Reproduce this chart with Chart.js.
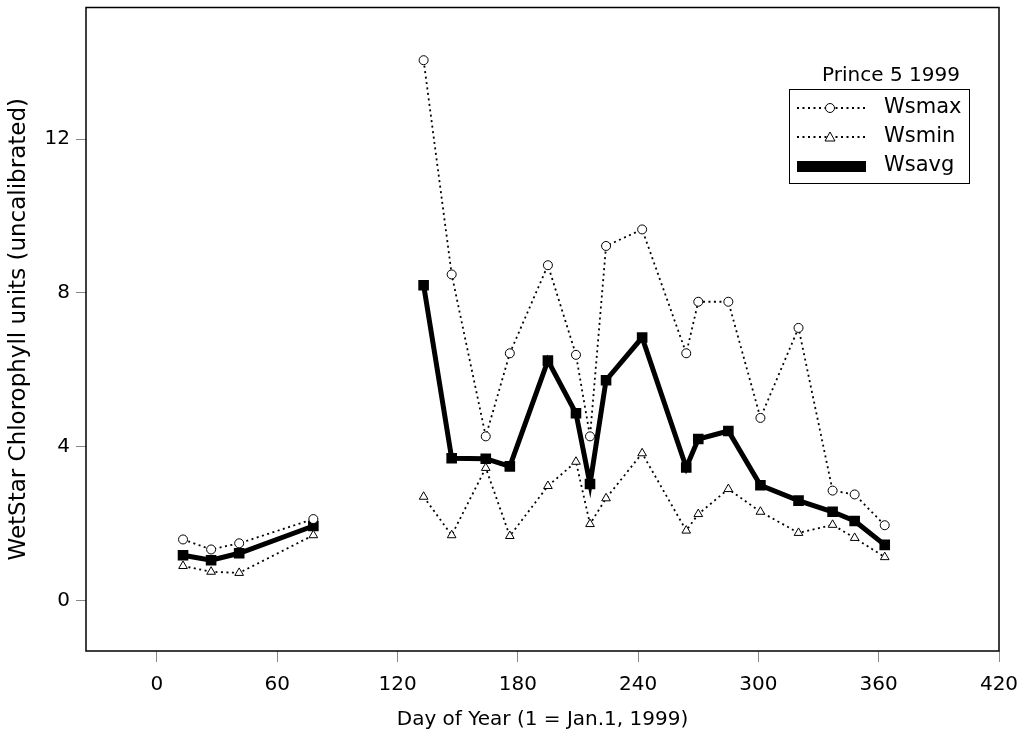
<!DOCTYPE html>
<html>
<head>
<meta charset="utf-8">
<script src="https://cdn.jsdelivr.net/npm/chart.js@4"></script>
<style>
  html, body { margin: 0; padding: 0; background: #fff; }
  #wrap { width: 1026px; height: 738px; }
</style>
</head>
<body>
<div id="wrap"><canvas id="chart" width="1026" height="738"></canvas></div>
<script>
// =====================
// Data
// =====================
const days  = [13, 27, 41, 78, 133, 147, 164, 176, 195, 209, 216, 224, 242, 264, 270, 285, 301, 320, 337, 348, 363];
const wsmax = [1.59, 1.33, 1.49, 2.12, 14.05, 8.48, 4.27, 6.43, 8.72, 6.39, 4.27, 9.22, 9.65, 6.43, 7.77, 7.77, 4.75, 7.09, 2.86, 2.76, 1.96];
const wsmin = [0.90, 0.75, 0.72, 1.70, 2.70, 1.70, 3.45, 1.68, 2.98, 3.61, 1.99, 2.66, 3.83, 1.82, 2.25, 2.90, 2.31, 1.76, 1.97, 1.63, 1.13];
const wsavg = [1.18, 1.05, 1.23, 1.94, 8.20, 3.70, 3.69, 3.49, 6.24, 4.87, 3.03, 5.73, 6.84, 3.46, 4.20, 4.41, 3.00, 2.60, 2.31, 2.07, 1.45];

const xTicks = [0, 60, 120, 180, 240, 300, 360, 420];
const yTicks = [0, 4, 8, 12];

const FONT = '"DejaVu Sans", "Liberation Sans", Arial, sans-serif';

function pts(vals) {
  return days.map((d, i) => ({x: d, y: vals[i]}));
}

// box round the plot + legend inside
const framePlugin = {
  id: 'frame',
  afterDatasetsDraw(chart) {
    const {ctx, chartArea: a} = chart;
    ctx.save();
    ctx.strokeStyle = '#000';
    ctx.lineWidth = 1.5;
    ctx.setLineDash([]);
    ctx.strokeRect(a.left, a.top, a.right - a.left, a.bottom - a.top);

    // title text
    ctx.fillStyle = '#000';
    ctx.font = '20px ' + FONT;
    ctx.textAlign = 'center';
    ctx.textBaseline = 'middle';
    ctx.fillText('Prince 5 1999', 891, 76);

    // legend box
    ctx.lineWidth = 1;
    ctx.strokeRect(789.5, 89.5, 180, 94);

    const rows = [
      {label: 'Wsmax', y: 108, kind: 'circle'},
      {label: 'Wsmin', y: 137, kind: 'triangle'},
      {label: 'Wsavg', y: 166, kind: 'rect'}
    ];
    ctx.font = '21px ' + FONT;
    rows.forEach(r => {
      ctx.strokeStyle = '#000';
      if (r.kind === 'rect') {
        ctx.fillRect(797, r.y - 5, 69, 11);
      } else {
        ctx.lineWidth = 1.8;
        ctx.setLineDash([2, 3.5]);
        ctx.beginPath();
        ctx.moveTo(797, r.y);
        ctx.lineTo(866, r.y);
        ctx.stroke();
        ctx.setLineDash([]);
        ctx.lineWidth = 1;
        ctx.fillStyle = '#fff';
        ctx.beginPath();
        if (r.kind === 'circle') {
          ctx.arc(830, r.y, 4.5, 0, Math.PI * 2);
        } else {
          ctx.moveTo(830, r.y - 5);
          ctx.lineTo(835, r.y + 4);
          ctx.lineTo(825, r.y + 4);
          ctx.closePath();
        }
        ctx.fill();
        ctx.stroke();
        ctx.fillStyle = '#000';
      }
      ctx.textAlign = 'left';
      ctx.fillText(r.label, 884, r.y);
    });
    ctx.restore();
  }
};

const ctx = document.getElementById('chart').getContext('2d');

new Chart(ctx, {
  type: 'line',
  data: {
    datasets: [
      {label: 'Wsmax', data: pts(wsmax), borderColor: '#000', borderWidth: 1.8, borderDash: [2, 3.5],
       pointStyle: 'circle', pointRadius: 4.5, pointBackgroundColor: '#fff', pointBorderColor: '#000', pointBorderWidth: 1},
      {label: 'Wsmin', data: pts(wsmin), borderColor: '#000', borderWidth: 1.8, borderDash: [2, 3.5],
       pointStyle: 'triangle', pointRadius: 5, pointBackgroundColor: '#fff', pointBorderColor: '#000', pointBorderWidth: 1},
      {label: 'Wsavg', data: pts(wsavg), borderColor: '#000', borderWidth: 5,
       pointStyle: 'rect', pointRadius: 7.5, pointBackgroundColor: '#000', pointBorderColor: '#000', pointBorderWidth: 0}
    ]
  },
  options: {
    responsive: false,
    animation: false,
    spanGaps: 40,
    layout: {padding: {top: 7, right: 27, left: 0, bottom: 0}},
    elements: {line: {tension: 0, fill: false}},
    plugins: {legend: {display: false}, tooltip: {enabled: false}},
    scales: {
      x: {
        type: 'linear', min: -35.4, max: 420,
        afterBuildTicks: s => { s.ticks = xTicks.map(v => ({value: v})); },
        afterFit: s => { s.height = 87; s.paddingLeft = 0; s.paddingRight = 0; },
        border: {display: false},
        grid: {drawOnChartArea: false, tickLength: 11, color: '#888', lineWidth: 1},
        ticks: {color: '#000', font: {family: FONT, size: 20}, padding: 11, maxRotation: 0},
        title: {display: true, text: 'Day of Year (1 = Jan.1, 1999)', color: '#000',
                font: {family: FONT, size: 20}, padding: {top: 4, bottom: 6}}
      },
      y: {
        type: 'linear', min: -1.31, max: 15.42,
        afterBuildTicks: s => { s.ticks = yTicks.map(v => ({value: v})); },
        afterFit: s => { s.width = 86; s.paddingTop = 0; s.paddingBottom = 0; },
        border: {display: false},
        grid: {drawOnChartArea: false, tickLength: 10, color: '#888', lineWidth: 1},
        ticks: {color: '#000', font: {family: FONT, size: 20}, padding: 6},
        title: {display: true, text: 'WetStar Chlorophyll units (uncalibrated)', color: '#000',
                font: {family: FONT, size: 23}, padding: {top: 5, bottom: 0}}
      }
    }
  },
  plugins: [framePlugin]
});
</script>
</body>
</html>
